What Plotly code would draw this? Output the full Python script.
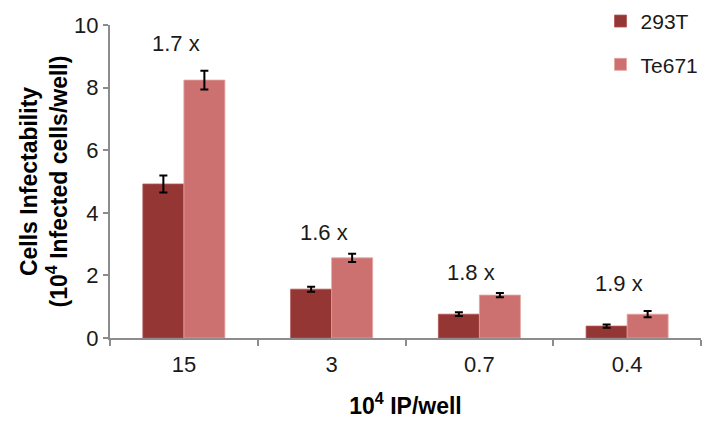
import plotly.graph_objects as go

# Input particles per well (x 10^4)
doses = ["15", "3", "0.7", "0.4"]

# Infected cells per well (x 10^4), mean and error
t293_vals = [4.92, 1.56, 0.76, 0.38]
t293_err = [0.27, 0.08, 0.06, 0.05]
te671_vals = [8.24, 2.56, 1.37, 0.76]
te671_err = [0.30, 0.13, 0.07, 0.10]

# Fold-change labels and the heights they sit at
fold_labels = ["1.7 x", "1.6 x", "1.8 x", "1.9 x"]
fold_label_y = [9.42, 3.38, 2.10, 1.75]

FONT = "Arial, Liberation Sans, sans-serif"
DARK = "#943634"
LIGHT = "#CC716F"
TEXT = "#1a1a1a"

fig = go.Figure()
fig.add_trace(go.Bar(
    name="293T", x=doses, y=t293_vals, legendgroup="a",
    marker=dict(color=DARK, line=dict(color="#B05553", width=0.8)),
    error_y=dict(type="data", array=t293_err, color="black", thickness=2, width=4),
))
fig.add_trace(go.Bar(
    name="Te671", x=doses, y=te671_vals, legendgroup="b",
    marker=dict(color=LIGHT, line=dict(color="#E4A3A1", width=0.8)),
    error_y=dict(type="data", array=te671_err, color="black", thickness=2, width=4),
))

# fold-change labels, placed by category index
for i, (lab, yv) in enumerate(zip(fold_labels, fold_label_y)):
    fig.add_annotation(x=i, y=yv, xref="x", yref="y", text=lab, showarrow=False,
                       xshift=-8, yanchor="middle",
                       font=dict(family=FONT, size=22, color=TEXT))

fig.update_layout(
    width=707, height=423,
    margin=dict(l=110, r=6, t=25, b=85, autoexpand=False),
    paper_bgcolor="white", plot_bgcolor="white",
    barmode="group", bargap=0.445, bargroupgap=0,
    font=dict(family=FONT, size=21, color=TEXT),
    showlegend=True,
    legend=dict(x=0.83, y=1.077, xanchor="left", yanchor="top",
                font=dict(family=FONT, size=21, color=TEXT),
                tracegroupgap=13, itemwidth=30, bgcolor="rgba(0,0,0,0)"),
    xaxis=dict(
        type="category", range=[-0.5, 3.5],
        showline=True, linecolor="#8c8c8c", linewidth=2,
        ticks="outside", tickson="boundaries", ticklen=6, tickwidth=2, tickcolor="#8c8c8c",
        ticklabelstandoff=6,
        showgrid=False, zeroline=False,
        tickfont=dict(family=FONT, size=22, color=TEXT),
        title=dict(text="<b>10<sup>4</sup> IP/well</b>", standoff=21,
                   font=dict(family=FONT, size=23, color="black")),
    ),
    yaxis=dict(
        range=[0, 10], dtick=2,
        showline=True, linecolor="#8c8c8c", linewidth=2,
        ticks="outside", ticklen=5, tickwidth=2, tickcolor="#8c8c8c",
        showgrid=False, zeroline=False,
        tickfont=dict(family=FONT, size=22, color=TEXT),
        title=dict(text="<b>Cells Infectability<br>(10<sup>4</sup> Infected cells/well)</b>",
                   standoff=0, font=dict(family=FONT, size=23, color="black")),
    ),
)

fig.write_html("out.html")
